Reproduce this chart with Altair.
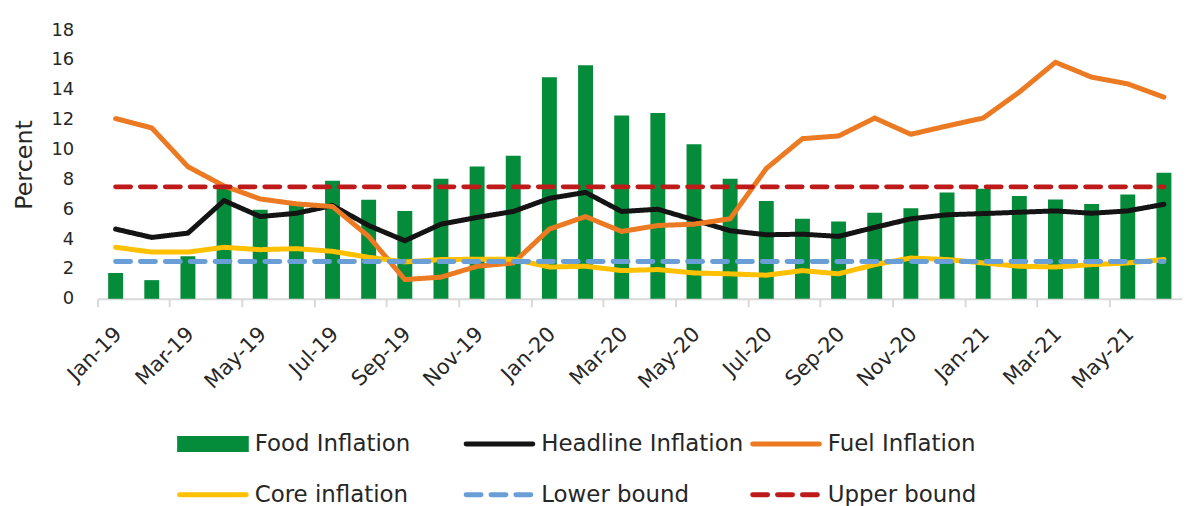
import altair as alt
import pandas as pd

months = ["Jan-19", "Feb-19", "Mar-19", "Apr-19", "May-19", "Jun-19", "Jul-19", "Aug-19",
          "Sep-19", "Oct-19", "Nov-19", "Dec-19", "Jan-20", "Feb-20", "Mar-20", "Apr-20",
          "May-20", "Jun-20", "Jul-20", "Aug-20", "Sep-20", "Oct-20", "Nov-20", "Dec-20",
          "Jan-21", "Feb-21", "Mar-21", "Apr-21", "May-21", "Jun-21"]

food = [1.73, 1.25, 2.85, 7.6, 5.96, 6.47, 7.91, 6.63, 5.89, 8.05, 8.87, 9.58, 14.85, 15.65,
        12.29, 12.45, 10.36, 8.05, 6.56, 5.36, 5.18, 5.76, 6.07, 7.13, 7.38, 6.89, 6.65, 6.36,
        6.98, 8.45]
headline = [4.67, 4.11, 4.4, 6.58, 5.51, 5.73, 6.25, 4.91, 3.89, 5.0, 5.45, 5.85, 6.73, 7.13,
            5.85, 6.0, 5.29, 4.56, 4.29, 4.33, 4.18, 4.78, 5.36, 5.63, 5.71, 5.8, 5.89, 5.73,
            5.89, 6.33]
fuel = [12.07, 11.45, 8.85, 7.56, 6.69, 6.36, 6.18, 4.18, 1.29, 1.45, 2.18, 2.4, 4.67, 5.51,
        4.51, 4.91, 5.0, 5.36, 8.73, 10.73, 10.91, 12.11, 11.02, 11.58, 12.11, 13.85, 15.85,
        14.85, 14.4, 13.51]
core = [3.45, 3.13, 3.13, 3.45, 3.29, 3.36, 3.18, 2.78, 2.47, 2.63, 2.65, 2.65, 2.13, 2.18,
        1.89, 1.96, 1.73, 1.67, 1.58, 1.89, 1.67, 2.29, 2.73, 2.63, 2.4, 2.18, 2.13, 2.29,
        2.4, 2.63]
lower_bound = 2.5
upper_bound = 7.5

y_ticks = [0, 2, 4, 6, 8, 10, 12, 14, 16, 18]

line_series = ["Headline Inflation", "Fuel Inflation", "Core inflation", "Lower bound", "Upper bound"]
line_colors = ["#141414", "#EC7A22", "#FFC000", "#6A9ED6", "#BE1A1A"]
line_dashes = [[1, 0], [1, 0], [1, 0], [15, 10], [15, 10]]
food_color = "#058C3A"

legend_names = ["Food Inflation", "Headline Inflation", "Fuel Inflation",
                "Core inflation", "Lower bound", "Upper bound"]
legend_cols = [0, 1, 2, 0, 1, 2]
legend_rows = [0, 0, 0, 1, 1, 1]

FONT = "DejaVu Sans"
TXT = "#262626"

df = pd.DataFrame({"month": months, "food": food})
long_rows = []
series_values = {
    "Headline Inflation": headline,
    "Fuel Inflation": fuel,
    "Core inflation": core,
    "Lower bound": [lower_bound] * len(months),
    "Upper bound": [upper_bound] * len(months),
}
for s in line_series:
    for m, v in zip(months, series_values[s]):
        long_rows.append({"month": m, "series": s, "value": v})
ldf = pd.DataFrame(long_rows)

x_scale = alt.Scale(paddingInner=0, paddingOuter=0)
x_axis = alt.Axis(values=months[::2], bandPosition=0, labelOffset=3, labelAngle=315,
                  labelAlign="right", labelBaseline="middle", labelPadding=24,
                  labelOverlap=False, grid=False, labelFontSize=21, labelFont=FONT,
                  labelColor=TXT, domainColor="#D9D9D9", domainWidth=2,
                  tickColor="#D9D9D9", tickWidth=2, tickSize=8)
y_scale = alt.Scale(domain=[0, 18], nice=False)
y_axis = alt.Axis(values=y_ticks, grid=False, domain=False, ticks=False,
                  tickSize=0, labelPadding=24, labelOverlap=False, labelFontSize=18,
                  labelFont=FONT, labelColor=TXT, title="Percent", titlePadding=14,
                  titleFontSize=24, titleFont=FONT, titleColor=TXT, titleFontWeight="normal")

color_scale = alt.Scale(domain=line_series, range=line_colors)
dash_scale = alt.Scale(domain=line_series, range=line_dashes)

bars = alt.Chart(df).mark_bar(size=15, color=food_color).encode(
    x=alt.X("month:N", sort=months, title=None, scale=x_scale, axis=x_axis),
    y=alt.Y("food:Q", scale=y_scale, axis=y_axis),
)

layers = [bars]
for s in line_series:
    layers.append(
        alt.Chart(ldf).transform_filter(alt.datum.series == s).mark_line(
            strokeWidth=5, strokeCap="round", strokeJoin="round"
        ).encode(
            x=alt.X("month:N", sort=months, title=None, scale=x_scale, axis=x_axis),
            y=alt.Y("value:Q", scale=y_scale, axis=y_axis),
            color=alt.Color("series:N", scale=color_scale, legend=None),
            strokeDash=alt.StrokeDash("series:N", scale=dash_scale, legend=None),
        )
    )

main = alt.layer(*layers).properties(width=1090, height=270)

leg_df = pd.DataFrame({"name": legend_names, "col": legend_cols, "row": legend_rows})
lx = alt.X("col:Q", scale=alt.Scale(domain=[-0.2778, 3.507], nice=False, zero=False), axis=None)
ly = alt.Y("row:Q", scale=alt.Scale(domain=[0, 1], reverse=True, nice=False), axis=None)

leg_rect = alt.Chart(leg_df).transform_filter(alt.datum.name == "Food Inflation").mark_rect(
    color=food_color, x2Offset=72, yOffset=-8, y2Offset=8
).encode(x=lx, x2="col:Q", y=ly, y2="row:Q")

leg_rule = alt.Chart(leg_df).transform_filter(alt.datum.name != "Food Inflation").mark_rule(
    strokeWidth=5, strokeCap="round", xOffset=2.5, x2Offset=69.5
).encode(
    x=lx, x2="col:Q", y=ly,
    color=alt.Color("name:N", scale=color_scale, legend=None),
    strokeDash=alt.StrokeDash("name:N", scale=dash_scale, legend=None),
)

leg_text = alt.Chart(leg_df).mark_text(
    align="left", baseline="middle", dx=78, fontSize=23, font=FONT, color=TXT
).encode(x=lx, y=ly, text="name:N")

legend = alt.layer(leg_rect, leg_rule, leg_text).properties(width=1090, height=51)

chart = alt.vconcat(main, legend, spacing=41).properties(
    padding={"left": 5, "top": 12, "right": 0, "bottom": 0}
).configure_view(stroke=None)

chart.save("out.html", embed_options={"renderer": "svg", "actions": False})
